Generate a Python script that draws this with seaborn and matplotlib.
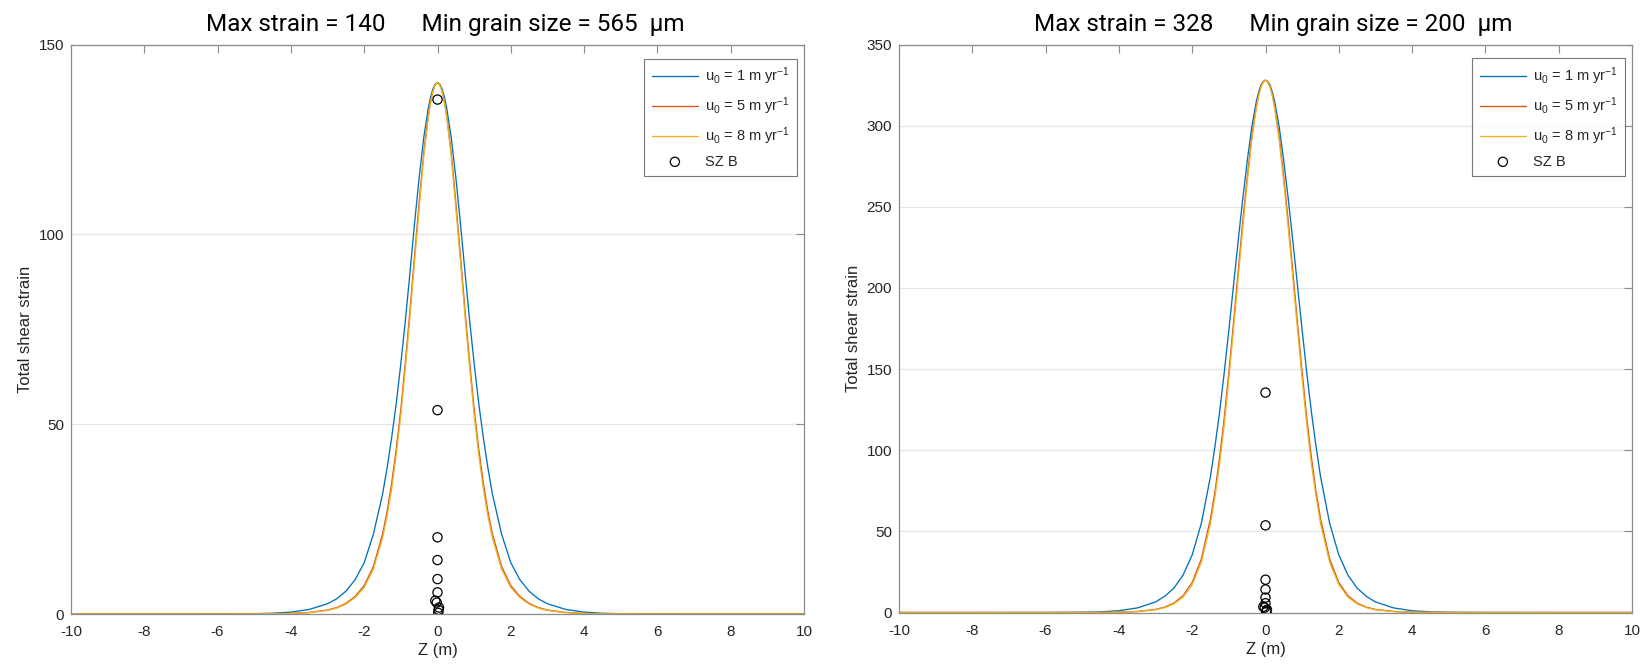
import numpy as np
import pandas as pd
import matplotlib
matplotlib.use("Agg")
import matplotlib.pyplot as plt
import seaborn as sns

# ---------------- data ----------------
# half profiles (curves are symmetric about Z = 0); values for Z >= 0
z_half = [0, 0.0625, 0.125, 0.1875, 0.25, 0.375, 0.5, 0.625, 0.75, 0.875,
          1.0, 1.125, 1.25, 1.375, 1.5, 1.75, 2.0, 2.25, 2.5, 2.75, 3.0,
          3.5, 4.0, 4.5, 5.0, 6.0, 8.0, 10.0]

# left panel (max strain 140)
left_u1 = [140, 139.55, 138.3, 136.2, 133.3, 125.5, 115, 103, 90, 77.5,
           66, 55.5, 46.5, 38.5, 31.5, 21, 13.5, 9, 6, 4, 2.7,
           1.2, 0.5, 0.2, 0.08, 0.02, 0, 0]
left_u5 = [140, 139.4, 137.8, 135, 131.5, 121.5, 108.5, 94.5, 80, 66.5,
           54, 43.5, 34.5, 27, 21, 12.5, 7.5, 4.6, 2.8, 1.7, 1.05,
           0.4, 0.15, 0.06, 0.02, 0, 0, 0]
left_u8 = [140, 139.35, 137.6, 134.7, 131, 120.5, 107, 93, 78.5, 65,
           52.5, 42, 33, 25.8, 20, 11.8, 7, 4.3, 2.6, 1.55, 0.95,
           0.36, 0.13, 0.05, 0.02, 0, 0, 0]

# right panel (max strain 328)
right_u1 = [328, 327.2, 325, 320.5, 315, 299, 278, 254, 228, 201,
            174, 148, 124, 103, 84, 55, 35.5, 23, 15, 10, 6.5,
            2.8, 1.1, 0.4, 0.15, 0.03, 0, 0]
right_u5 = [328, 327, 324, 318.8, 312, 293, 268, 240, 209, 178,
            148, 120, 96, 75, 58, 33, 18.5, 10.3, 5.8, 3.3, 1.9,
            0.6, 0.2, 0.06, 0.02, 0, 0, 0]
right_u8 = [328, 326.9, 323.8, 318.2, 311, 291, 265, 236, 205, 174,
            144, 116, 92, 72, 55, 31, 17.2, 9.5, 5.3, 3.0, 1.7,
            0.55, 0.18, 0.05, 0.015, 0, 0, 0]

# SZ B samples (same in both panels)
szb_z = [0.0, 0.0, 0.0, 0.0, 0.0, 0.0, -0.06, -0.02, 0.04, 0.03, 0.02]
szb_strain = [135.5, 53.7, 20.2, 14.2, 9.2, 5.7, 3.5, 3.0, 1.7, 1.1, 0.3]

series_labels = [r"u$_0$ = 1 m yr$^{-1}$", r"u$_0$ = 5 m yr$^{-1}$",
                 r"u$_0$ = 8 m yr$^{-1}$"]
szb_label = "SZ B"
titles = ["Max strain = 140      Min grain size = 565  \u03bcm",
          "Max strain = 328      Min grain size = 200  \u03bcm"]
ylims = [150, 350]
yticks_list = [[0, 50, 100, 150], [0, 50, 100, 150, 200, 250, 300, 350]]
xticks = list(range(-10, 11, 2))

colors = ["#0072BD", "#D95319", "#EDB120"]


def full_profile(half):
    z = [-v for v in z_half[::-1]] + z_half[1:]
    y = list(half[::-1]) + list(half[1:])
    return z, y


# ---------------- figure ----------------
sns.set_theme(style="white")
plt.rcParams["font.family"] = ["Liberation Sans", "DejaVu Sans"]
plt.rcParams["mathtext.default"] = "regular"
plt.rcParams["axes.unicode_minus"] = False

fig = plt.figure(figsize=(16.48, 6.68), dpi=100)
ax1 = fig.add_axes([71 / 1648, (668 - 614) / 668, 733 / 1648, 569.5 / 668])
ax2 = fig.add_axes([899 / 1648, (668 - 612.5) / 668, 733 / 1648, 568 / 668])

panels = [(ax1, [left_u1, left_u5, left_u8]), (ax2, [right_u1, right_u5, right_u8])]
spine_col = "#8c8c8c"
text_col = "#262626"

for i, (ax, curves) in enumerate(panels):
    for half, col, lab in zip(curves, colors, series_labels):
        z, y = full_profile(half)
        df = pd.DataFrame({"Z": z, "strain": y})
        sns.lineplot(data=df, x="Z", y="strain", ax=ax, color=col, lw=0.95,
                     label=lab, estimator=None, sort=False)
    sdf = pd.DataFrame({"Z": szb_z, "strain": szb_strain})
    sns.scatterplot(data=sdf, x="Z", y="strain", ax=ax, marker="o", s=44,
                    facecolor="none", edgecolor="black", linewidth=0.9,
                    label=szb_label, zorder=5)

    ax.set_xlim(-10, 10)
    ax.set_ylim(0, ylims[i])
    ax.set_xticks(xticks)
    ax.set_yticks(yticks_list[i])
    ax.yaxis.grid(True, color="#e6e6e6", lw=0.9)
    ax.xaxis.grid(False)
    ax.set_axisbelow(True)
    for s in ax.spines.values():
        s.set_visible(True)
        s.set_color(spine_col)
        s.set_linewidth(0.9)
    ax.tick_params(direction="in", length=6, width=0.8, color=spine_col,
                   labelsize=11, labelcolor=text_col, top=True, right=True)
    ax.tick_params(axis="x", pad=8)
    ax.tick_params(axis="y", pad=5)
    ax.set_xlabel("Z (m)", fontsize=12, color=text_col, labelpad=3)
    ax.set_ylabel("Total shear strain", fontsize=12, color=text_col, labelpad=4)
    ax.set_title(titles[i], fontsize=17.5, family=["Roboto", "DejaVu Sans"],
                 color="black", pad=10, x=0.51)

    leg = ax.legend(loc="upper right", bbox_to_anchor=(1 - 7 / 733, 1 - 14 / 569),
                    borderaxespad=0, frameon=True, fancybox=False, fontsize=10.5,
                    handlelength=3.2, labelspacing=0.55, borderpad=0.5,
                    handletextpad=0.45)
    leg.get_frame().set_edgecolor("#555555")
    leg.get_frame().set_linewidth(0.8)
    for t in leg.get_texts():
        t.set_color(text_col)

fig.savefig("out.png", dpi=100)
